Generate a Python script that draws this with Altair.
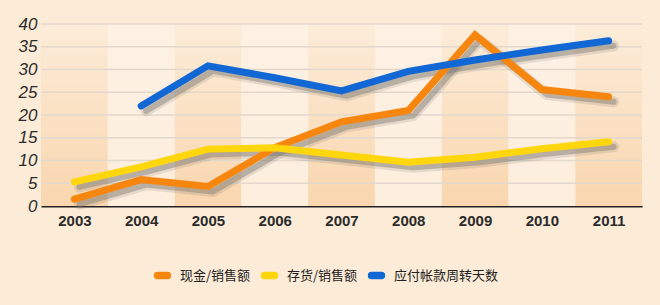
import altair as alt
import pandas as pd

years = [2003, 2004, 2005, 2006, 2007, 2008, 2009, 2010, 2011]
series_names = ["现金/销售额", "存货/销售额", "应付帐款周转天数"]
cash_sales = [1.5, 5.8, 4.3, 12.8, 18.5, 21.0, 37.6, 25.6, 24.0]
inventory_sales = [5.3, 8.6, 12.5, 12.8, 11.2, 9.6, 10.7, 12.6, 14.1]
payable_days = [None, 22.0, 30.8, 28.2, 25.3, 29.6, 32.1, 34.3, 36.3]
y_ticks = [0, 5, 10, 15, 20, 25, 30, 35, 40]
colors = ["#f7860f", "#fdd60b", "#1168d5"]

rows = []
for name, vals in zip(series_names, [cash_sales, inventory_sales, payable_days]):
    for yr, v in zip(years, vals):
        if v is not None:
            rows.append({"year": yr, "series": name, "value": v})
df = pd.DataFrame(rows)
bands = pd.DataFrame({"year": years, "odd": [i % 2 == 0 for i in range(len(years))]})
grid = pd.DataFrame({"tick": y_ticks})

W, H = 601, 182
xscale = alt.Scale(domain=[years[0] - 0.5, years[-1] + 0.5], nice=False, zero=False)
yscale = alt.Scale(domain=[0, 40], nice=False)

xaxis = alt.Axis(values=years, format="d", title=None, grid=False, ticks=False,
                 labelFont="Liberation Sans", labelFontWeight="bold",
                 labelFontSize=15, labelColor="#2b2b2b", labelPadding=7,
                 domainColor="#222222", domainWidth=2)
yaxis = alt.Axis(values=y_ticks, title=None, grid=False, ticks=False, domain=False,
                 labelFont="Liberation Sans", labelFontStyle="italic",
                 labelFontSize=17, labelColor="#2b2b2b", labelPadding=4)

odd_grad = alt.Gradient(gradient="linear", x1=0, x2=0, y1=0, y2=1,
                        stops=[alt.GradientStop(color="#fcecd9", offset=0),
                               alt.GradientStop(color="#f9d6ae", offset=1)])
even_grad = alt.Gradient(gradient="linear", x1=0, x2=0, y1=0, y2=1,
                         stops=[alt.GradientStop(color="#fdf1e4", offset=0),
                                alt.GradientStop(color="#fdeedd", offset=1)])

base_band = alt.Chart(bands).transform_calculate(
    x0="datum.year - 0.5", x1="datum.year + 0.5"
)
odd_bands = base_band.transform_filter("datum.odd").mark_rect(color=odd_grad).encode(
    x=alt.X("x0:Q", scale=xscale, axis=xaxis), x2="x1:Q",
    y=alt.value(0), y2=alt.value(H))
even_bands = base_band.transform_filter("!datum.odd").mark_rect(color=even_grad).encode(
    x=alt.X("x0:Q", scale=xscale, axis=xaxis), x2="x1:Q",
    y=alt.value(0), y2=alt.value(H))

grid_rules = alt.Chart(grid).transform_filter("datum.tick > 0").mark_rule(
    color="#e2d8cc", strokeWidth=1.5).encode(
    y=alt.Y("tick:Q", scale=yscale, axis=yaxis))

shadow_base = alt.Chart(df).transform_calculate(
    xs="datum.year + 0.075", ys="datum.value - 1.1")
shadow_blur = shadow_base.mark_line(color="#6e6862", opacity=0.16, strokeWidth=11,
                                    strokeCap="round", strokeJoin="round").encode(
    x=alt.X("xs:Q", scale=xscale, axis=xaxis),
    y=alt.Y("ys:Q", scale=yscale, axis=yaxis),
    detail="series:N")
shadow = shadow_base.mark_line(color="#7a746e", opacity=0.42, strokeWidth=6,
                               strokeCap="round", strokeJoin="round").encode(
    x=alt.X("xs:Q", scale=xscale, axis=xaxis),
    y=alt.Y("ys:Q", scale=yscale, axis=yaxis),
    detail="series:N")

capsule = "M-0.62,-0.06 L0.62,-0.06 A0.06,0.06 0 0 1 0.62,0.06 L-0.62,0.06 A0.06,0.06 0 0 1 -0.62,-0.06 Z"

lines = alt.Chart(df).mark_line(strokeWidth=7, strokeCap="round", strokeJoin="miter").encode(
    x=alt.X("year:Q", scale=xscale, axis=xaxis),
    y=alt.Y("value:Q", scale=yscale, axis=yaxis),
    color=alt.Color("series:N", scale=alt.Scale(domain=series_names, range=colors),
                    sort=series_names,
                    legend=alt.Legend(title=None, orient="none", direction="horizontal",
                                      legendX=110, legendY=240,
                                      symbolType=capsule, symbolSize=256,
                                      symbolStrokeWidth=6.5, symbolOpacity=1,
                                      labelFont="Noto Sans CJK SC", labelFontSize=13,
                                      labelColor="#222222", labelOffset=6,
                                      columnPadding=0)),
    order="year:Q",
)

chart = alt.layer(odd_bands, even_bands, grid_rules, shadow_blur, shadow, lines).properties(
    width=W, height=H,
    background="#fcebd7",
    padding={"left": 41, "top": 24, "right": 18, "bottom": 99},
    autosize=alt.AutoSizeParams(type="none"),
).configure_view(stroke=None)

chart.save("out.html", embed_options={"renderer": "svg", "actions": False})
